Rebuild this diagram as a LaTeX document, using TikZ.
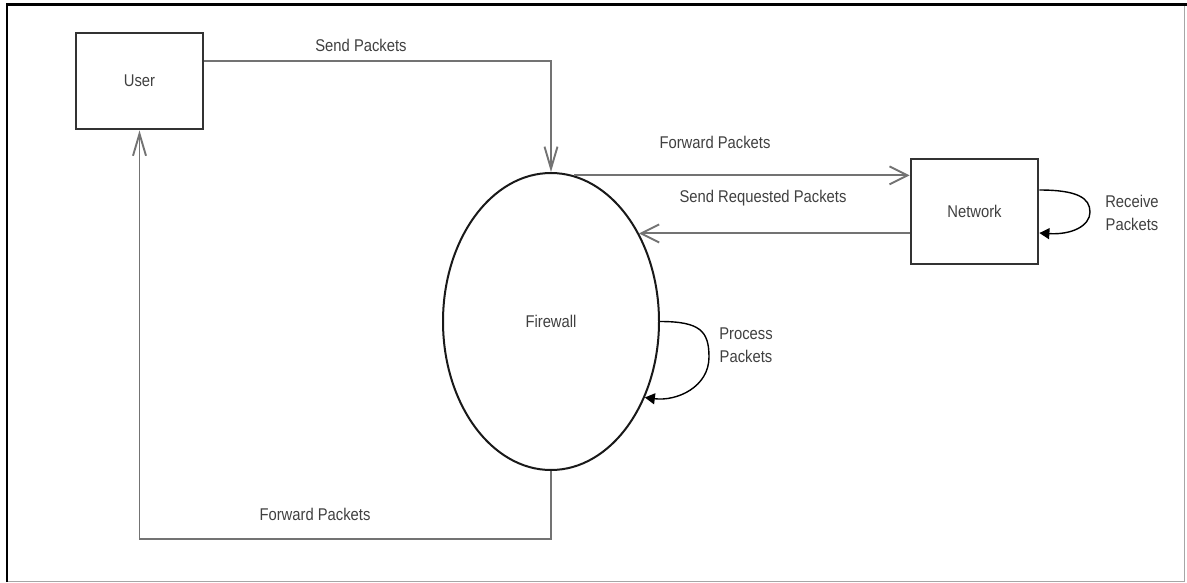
\documentclass[tikz,border=0pt]{standalone}
\usepackage{fontspec}
\setmainfont{Liberation Sans}
\usepackage{graphicx}
\usetikzlibrary{shapes.geometric,arrows.meta,calc}
\newcommand{\sq}[1]{\scalebox{0.87}[1]{#1}}
\begin{document}
\begin{tikzpicture}[x=1pt,y=-1pt,
  lbl/.style={font=\fontsize{17}{23}\selectfont, text=black!75, inner sep=0pt, align=center},
  entity/.style={draw=black!80, line width=2.8pt, minimum width=127pt, inner sep=0pt,
    font=\fontsize{17}{23}\selectfont, text=black!75},
  proc/.style={ellipse, draw=black!90, line width=2pt, minimum width=216pt, minimum height=297pt,
    inner sep=0pt, font=\fontsize{17}{23}\selectfont, text=black!75},
  conn/.style={draw=black!55, line width=1.9pt},
  vtip/.style={-{Straight Barb[length=22pt,width=13pt]}},
  htip/.style={-{Straight Barb[length=18pt,width=18pt]}},
  selfloop/.style={draw=black, line width=1.4pt, -{Triangle[length=10pt,width=11pt]}}
]
\useasboundingbox (0,0) rectangle (1187,582);
% frame
\draw[black!35, line width=1pt] (7,581) -- (1184,581) -- (1184,4.5);
\draw[black, line width=2.3pt] (7,582) -- (7,4.5) -- (1187,4.5);

% nodes
\node[entity, minimum height=96pt] (user) at (139.5,81) {\sq{User}};
\node[entity, minimum height=105pt] (netw) at (974.5,211.5) {\sq{Network}};
\node[proc] (fw) at (551,321.5) {\sq{Firewall}};

% connectors
\draw[conn, vtip] ([yshift=20pt]user.east) -| (fw.north);
\node[lbl] (lsend) at (361,45) {\sq{Send Packets}};

\draw[conn, htip] (fw.81.6) -- (fw.81.6 -| netw.west);
\node[lbl] (lfwd1) at (715,142) {\sq{Forward Packets}};

\draw[conn, htip] (fw.45.59 -| netw.west) -- (fw.45.59);
\node[lbl] (lreq) at (763,198) {\sq{Send Requested Packets}};

\draw[conn, vtip] (fw.south) -- ++(0,68) -| (user.south);
\node[lbl] (lfwd2) at (315,514) {\sq{Forward Packets}};

% self loops
\coordinate (pApex) at (709,357);
\draw[selfloop] (fw.east) .. controls +(40,0) and +(0,-26) .. (pApex)
  .. controls +(0,30) and +(32,4) .. (fw.-39.1);
\node[lbl] (lproc) at (746,345) {\sq{Process}\\\sq{Packets}};

\coordinate (nApex) at (1090,212);
\draw[selfloop] ([yshift=21.5pt]netw.east) .. controls +(38,0) and +(0,-14) .. (nApex)
  .. controls +(0,14) and +(32,2) .. ([yshift=-21.5pt]netw.east);
\node[lbl] (lrecv) at (1132,213) {\sq{Receive}\\\sq{Packets}};
\end{tikzpicture}
\end{document}
